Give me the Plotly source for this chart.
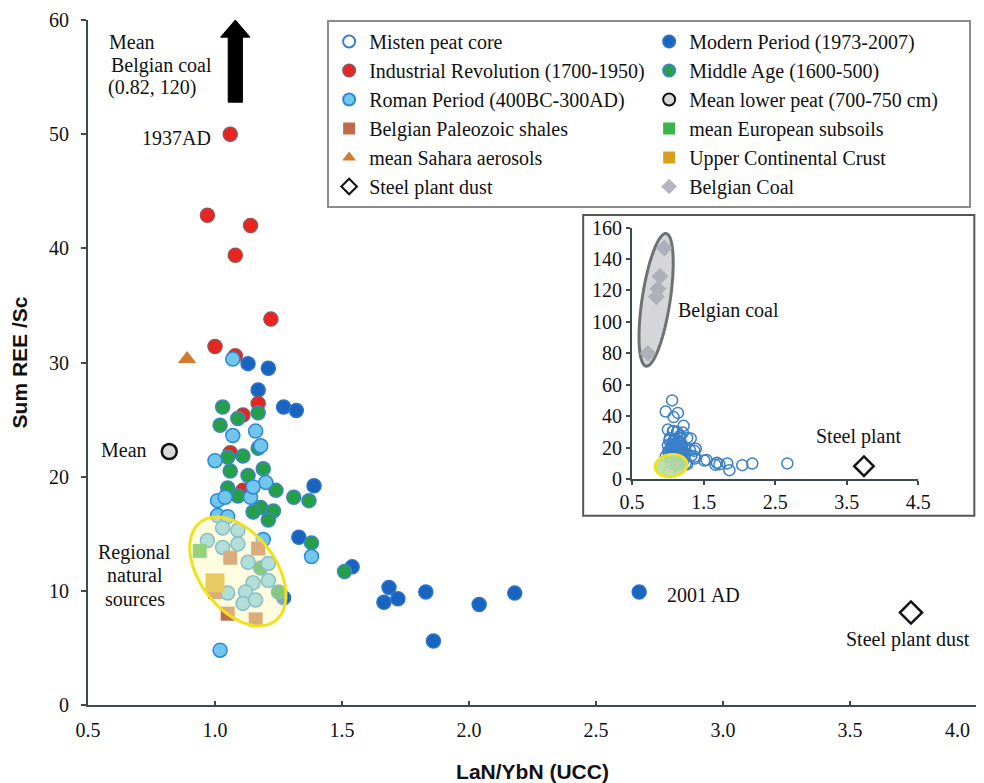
import numpy as np
import plotly.graph_objects as go

# ---------------- data ----------------
modern_x = [1.13, 1.21, 1.17, 1.27, 1.32, 1.39, 1.33, 1.54, 1.685, 1.665, 1.72, 1.83, 1.86, 2.04, 2.18, 2.67, 1.27]
modern_y = [29.9, 29.5, 27.6, 26.1, 25.8, 19.2, 14.7, 12.1, 10.3, 9.0, 9.3, 9.9, 5.6, 8.8, 9.8, 9.9, 9.4]

indus_x = [1.06, 0.97, 1.14, 1.08, 1.22, 1.00, 1.08, 1.17, 1.11, 1.06, 1.11]
indus_y = [50.0, 42.9, 42.0, 39.4, 33.8, 31.4, 30.6, 26.4, 25.4, 22.1, 18.8]

middle_x = [1.03, 1.09, 1.17, 1.02, 1.17, 1.05, 1.11, 1.06, 1.13, 1.19, 1.05, 1.09,
            1.24, 1.31, 1.37, 1.18, 1.23, 1.21, 1.38, 1.51, 1.18, 1.25, 1.15]
middle_y = [26.1, 25.1, 25.6, 24.5, 22.5, 21.7, 21.8, 20.5, 20.1, 20.7, 19.0, 18.3,
            18.8, 18.2, 17.9, 17.3, 17.0, 16.2, 14.2, 11.7, 12.0, 9.9, 16.9]

roman_x = [1.07, 1.18, 1.07, 1.16, 1.00, 1.01, 1.04, 1.14, 1.20, 1.15, 1.01, 1.05, 1.38, 1.02,
           1.03, 1.09, 0.97, 1.03, 1.09, 1.13, 1.21, 1.15, 1.21, 1.05, 1.12, 1.11, 1.16, 1.19]
roman_y = [30.3, 22.7, 23.6, 24.0, 21.4, 17.9, 18.2, 18.2, 19.5, 19.1, 16.6, 16.5, 13.0, 4.8,
           15.5, 15.3, 14.4, 13.8, 14.1, 12.5, 12.4, 10.7, 10.9, 9.8, 9.9, 8.9, 9.2, 14.5]

lower_peat_x = [0.82]
lower_peat_y = [22.2]

shales_x = [1.06, 1.17, 1.00, 1.05, 1.16]
shales_y = [12.9, 13.7, 9.9, 8.0, 7.5]

eu_subsoil_x = [0.94]
eu_subsoil_y = [13.5]

sahara_x = [0.89]
sahara_y = [30.3]

ucc_x = [1.00]
ucc_y = [10.7]

steel_x = [3.74]
steel_y = [8.1]

coal_x = [0.95, 0.89, 0.86, 0.84, 0.72]
coal_y = [147, 129, 121, 116, 80]

# all Misten peat core samples (inset)
misten_x = modern_x + indus_x + middle_x + roman_x
misten_y = modern_y + indus_y + middle_y + roman_y

# tick labels of the main x axis (the last one is drawn separately so it stays inside the page)
main_xticks = [0.5, 1.0, 1.5, 2.0, 2.5, 3.0, 3.5, 4.0]
main_xticklabels = ["0.5", "1.0", "1.5", "2.0", "2.5", "3.0", "3.5", "4.0"]

SERIF = "Liberation Serif"
SANS = "Liberation Sans"
FS = 20

fig = go.Figure()


def sc(name, x, y, symbol, fill, line, size=14, lw=1.5, xa="x", ya="y", show=True, opacity=1.0):
    fig.add_trace(go.Scatter(
        x=x, y=y, mode="markers", name=name, showlegend=show,
        xaxis=xa, yaxis=ya, opacity=opacity,
        marker=dict(symbol=symbol, size=size, color=fill, line=dict(color=line, width=lw)),
        hoverinfo="x+y+name"))


# legend order (row by row, two columns)
sc("Misten peat core", misten_x, misten_y, "circle-open", "#3a7fc8", "#3a7fc8", size=11, lw=1.5, xa="x2", ya="y2")
sc("Modern Period (1973-2007)", modern_x, modern_y, "circle", "#1964be", "#2a72c8")
sc("Industrial Revolution (1700-1950)", indus_x, indus_y, "circle", "#ea2520", "#9a5050")
sc("Middle Age (1600-500)", middle_x, middle_y, "circle", "#25a047", "#3b86c2")
sc("Roman Period (400BC-300AD)", roman_x, roman_y, "circle", "#72c6ee", "#2b8ad6")
sc("Mean lower peat (700-750 cm)", lower_peat_x, lower_peat_y, "circle", "#d9d9d9", "#111111", size=15, lw=2.5)
sc("Belgian Paleozoic shales", shales_x, shales_y, "square", "#c06a4c", "#c06a4c", size=14, lw=0)
sc("mean European subsoils", eu_subsoil_x, eu_subsoil_y, "square", "#3cb24a", "#3cb24a", size=14, lw=0)
sc("mean Sahara aerosols", sahara_x, sahara_y, "triangle-up", "#d27b2c", "#d27b2c", size=16, lw=0)
sc("Upper Continental Crust", ucc_x, ucc_y, "square", "#d6a21e", "#d6a21e", size=19, lw=0)
sc("Steel plant dust", steel_x, steel_y, "diamond-open", "#111111", "#111111", size=17, lw=2.5)
sc("Belgian Coal", coal_x, coal_y, "diamond", "#a9a9b4", "#a9a9b4", size=13, lw=0, xa="x2", ya="y2", opacity=0.85)
sc("Steel plant dust", steel_x, steel_y, "diamond-open", "#111111", "#111111", size=15, lw=2.5,
   xa="x2", ya="y2", show=False)


def ellipse_path(cx, cy, a, b, ang, sx, sy, n=72):
    """ellipse given centre in data units, semi-axes in px, angle in screen deg"""
    t = np.linspace(0, 2 * np.pi, n)
    th = np.radians(ang)
    px = a * np.cos(t) * np.cos(th) - b * np.sin(t) * np.sin(th)
    py = a * np.cos(t) * np.sin(th) + b * np.sin(t) * np.cos(th)
    xs = cx + px / sx
    ys = cy - py / sy
    d = "M " + " L ".join(f"{x:.4f},{y:.4f}" for x, y in zip(xs, ys)) + " Z"
    return d


SX, SY = 254.0, 11.43        # main px per unit
SX2, SY2 = 71.5, 1.57        # inset px per unit

shapes = []
# inset frame
shapes.append(dict(type="rect", xref="paper", yref="paper", x0=0.557, x1=0.997, y0=0.2764, y1=0.7155,
                   line=dict(color="#555555", width=2), fillcolor="white", layer="below"))
# regional natural sources ellipse
shapes.append(dict(type="path", xref="x", yref="y", path=ellipse_path(1.09, 11.7, 62, 38, 53, SX, SY),
                   line=dict(color="#f0e11e", width=3), fillcolor="rgba(255,250,185,0.45)", layer="above"))
# arrow to mean Belgian coal
ax0, hw, hh = 1.08, 0.028, 0.058
shapes.append(dict(type="path", xref="x", yref="y",
                   path=f"M {ax0-hw},52.8 L {ax0-hw},58.5 L {ax0-hh},58.5 L {ax0},60 L {ax0+hh},58.5 "
                        f"L {ax0+hw},58.5 L {ax0+hw},52.8 Z",
                   line=dict(color="black", width=1), fillcolor="black", layer="above"))
# inset: Belgian coal ellipse
shapes.append(dict(type="path", xref="x2", yref="y2", path=ellipse_path(0.836, 114, 67, 14, -81.4, SX2, SY2),
                   line=dict(color="#6e7272", width=3), fillcolor="#d6d6da", layer="below"))
# inset: natural sources ellipse
shapes.append(dict(type="path", xref="x2", yref="y2", path=ellipse_path(1.045, 8.5, 16, 11, -8, SX2, SY2),
                   line=dict(color="#eee21e", width=3), fillcolor="rgba(185,222,160,0.9)", layer="above"))

ann = []


def txt(s, x, y, xanchor="left", xref="x", yref="y", size=FS, xshift=0, yshift=0):
    ann.append(dict(text=s, x=x, y=y, xref=xref, yref=yref, xanchor=xanchor, yanchor="middle",
                    xshift=xshift, yshift=yshift,
                    showarrow=False, font=dict(family=SERIF, size=size, color="#111111")))


txt("Mean", 0.574, 58.05)
txt("Belgian coal", 0.582, 56.05)
txt("(0.82, 120)", 0.572, 54.05)
txt("1937AD", 0.993, 49.7, "right")
txt("Mean", 0.742, 22.3, "right")
txt("Regional", 0.685, 13.4, "center")
txt("natural", 0.685, 11.35, "center")
txt("sources", 0.685, 9.3, "center")
txt("2001 AD", 2.77, 9.6)
txt("Steel plant dust", 3.73, 5.75, "center")
txt("Belgian coal", 1.12, 107, "left", "x2", "y2")
txt("Steel plant", 3.66, 27, "center", "x2", "y2")
# last x tick label, kept inside the page edge
txt(main_xticklabels[-1], main_xticks[-1], 0, "right", "x", "paper", xshift=-5, yshift=-25)

tickfont = dict(family=SERIF, size=FS, color="#111111")
axcol = "#3c4a52"

# the page body adds an 8px offset, so the figure is sized/margined to compensate
fig.update_layout(
    width=976, height=775,
    margin=dict(l=80, r=7, t=12, b=77.5),
    paper_bgcolor="white", plot_bgcolor="white",
    shapes=shapes, annotations=ann,
    showlegend=True,
    legend=dict(orientation="h", x=0.269, y=1.0, xanchor="left", yanchor="top",
                entrywidth=275, entrywidthmode="pixels", itemsizing="constant",
                bgcolor="white", bordercolor="#8c8c8c", borderwidth=2,
                font=dict(family=SERIF, size=FS, color="#111111"), tracegroupgap=0),
    xaxis=dict(range=[0.5, 4.0], tickmode="array", tickvals=main_xticks,
               ticktext=main_xticklabels[:-1] + [""],
               automargin=False, ticklabeloverflow="allow",
               showgrid=False, zeroline=False, showline=True, linecolor=axcol, linewidth=2,
               ticks="inside", ticklen=4, tickcolor=axcol, tickwidth=2, tickfont=tickfont,
               ticklabelstandoff=6,
               title=dict(text="<b>LaN/YbN (UCC)</b>", font=dict(family=SANS, size=21, color="#111111"),
                          standoff=24)),
    yaxis=dict(range=[0, 60], tickmode="linear", tick0=0, dtick=10, automargin=False,
               showgrid=False, zeroline=False, showline=True, linecolor=axcol, linewidth=2,
               ticks="outside", ticklen=5, tickcolor=axcol, tickwidth=2, tickfont=tickfont,
               ticklabelstandoff=8,
               title=dict(text="<b>Sum REE /Sc</b>", font=dict(family=SANS, size=21, color="#111111"),
                          standoff=18)),
    xaxis2=dict(domain=[0.612, 0.934], anchor="y2", range=[0.5, 4.5], tickmode="linear", tick0=0.5,
                dtick=1, tickformat=".1f", showgrid=False, zeroline=False, showline=True, automargin=False,
                linecolor=axcol, linewidth=2, ticks="outside", ticklen=4, tickcolor=axcol, tickwidth=2,
                tickfont=tickfont),
    yaxis2=dict(domain=[0.330, 0.697], anchor="x2", range=[0, 160], tickmode="linear", tick0=0,
                dtick=20, showgrid=False, zeroline=False, showline=True, linecolor=axcol, linewidth=2,
                automargin=False,
                ticks="outside", ticklen=4, tickcolor=axcol, tickwidth=2, tickfont=tickfont),
)

fig.write_html("out.html")
